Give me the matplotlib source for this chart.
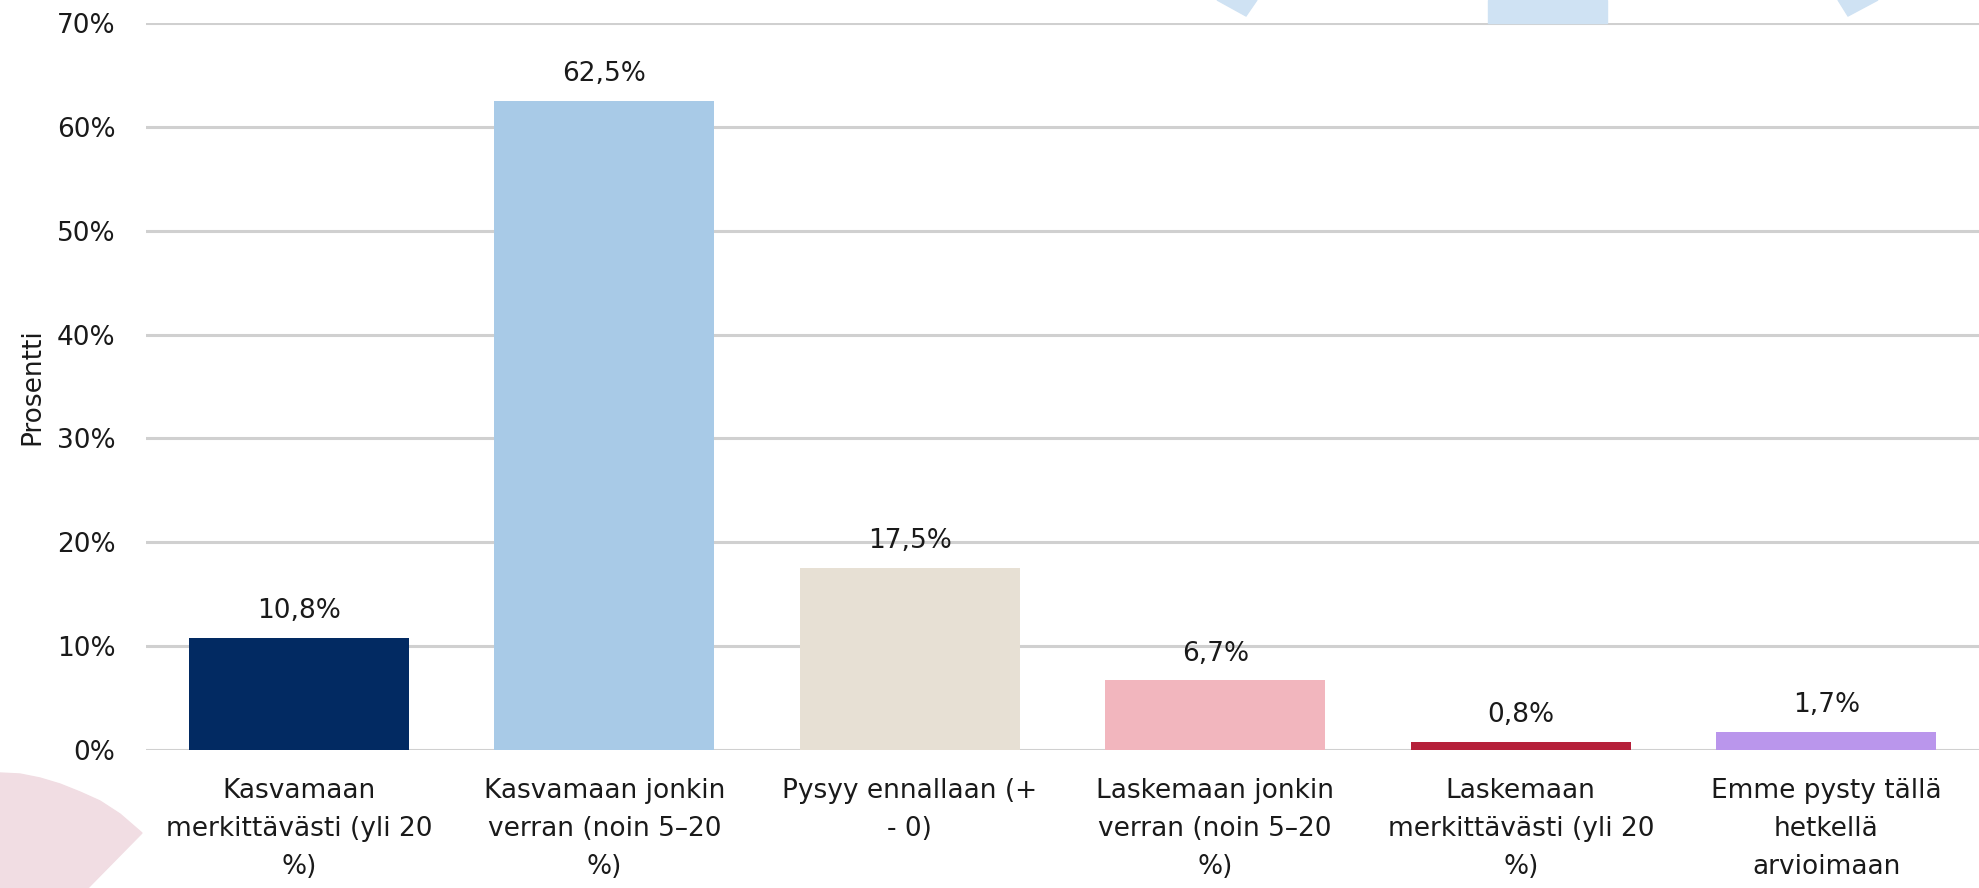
import matplotlib
matplotlib.use("Agg")
import matplotlib.pyplot as plt
from matplotlib.patches import Polygon, Rectangle

categories = [
    "Kasvamaan\nmerkittävästi (yli 20\n%)",
    "Kasvamaan jonkin\nverran (noin 5–20\n%)",
    "Pysyy ennallaan (+\n- 0)",
    "Laskemaan jonkin\nverran (noin 5–20\n%)",
    "Laskemaan\nmerkittävästi (yli 20\n%)",
    "Emme pysty tällä\nhetkellä\narvioimaan",
]
values = [10.8, 62.5, 17.5, 6.7, 0.8, 1.7]
colors = ["#022a62", "#a8cae7", "#e7e0d4", "#f2b6be", "#b5203a", "#ba96ec"]
yticks = [0, 10, 20, 30, 40, 50, 60, 70]

plt.rcParams["font.family"] = ["DejaVu Sans"]

W, H = 1979, 888
fig = plt.figure(figsize=(W / 100, H / 100), dpi=100)

# background decorations, pixel coords -> figure fraction
def px(pts):
    return [(x / W, 1 - y / H) for x, y in pts]

blue = "#cfe2f3"
fig.patches.append(Polygon(px([(1217, 0), (1246, 16), (1257, 0)]), closed=True,
                           transform=fig.transFigure, color=blue, zorder=0))
fig.patches.append(Polygon(px([(1838, 0), (1848, 16), (1878, 0)]), closed=True,
                           transform=fig.transFigure, color=blue, zorder=0))
fig.patches.append(Rectangle((1488 / W, 1 - 23 / H), 119 / W, 23 / H,
                             transform=fig.transFigure, color=blue, zorder=0))
fig.patches.append(Polygon(px([(0, 773), (20, 774), (40, 778), (60, 784), (80, 792),
                               (100, 801), (120, 814), (142, 833), (88, 888), (0, 888)]),
                           closed=True, transform=fig.transFigure, color="#f1dde3", zorder=0))

ax = fig.add_axes([146 / W, 1 - 750 / H, 1 - 146 / W, (750 - 23) / H])
ax.set_facecolor("none")

x = range(len(categories))
bars = ax.bar(x, values, width=0.72, color=colors, zorder=3)
for b, v in zip(bars, values):
    ax.annotate(f"{v:.1f}%".replace(".", ","), (b.get_x() + b.get_width() / 2, v),
                xytext=(0, 10), textcoords="offset points", ha="center", va="bottom",
                fontsize=19, color="#1a1a1a")

ax.set_xlim(-0.5, len(categories) - 0.5)
ax.set_ylim(0, 70)
ax.set_yticks(yticks)
ax.set_yticklabels([f"{t}%" for t in yticks], fontsize=19, color="#1a1a1a")
ax.set_xticks(list(x))
ax.set_xticklabels(categories, fontsize=19, color="#1a1a1a", linespacing=1.6)
ax.tick_params(axis="both", length=0)
ax.tick_params(axis="x", pad=20)
ax.tick_params(axis="y", pad=22)
ax.grid(axis="y", color="#d0d0d0", linewidth=2.2, zorder=0)
for s in ax.spines.values():
    s.set_visible(False)
ax.set_ylabel("Prosentti", fontsize=19, color="#1a1a1a", labelpad=8)

fig.savefig("out.png", dpi=100)
